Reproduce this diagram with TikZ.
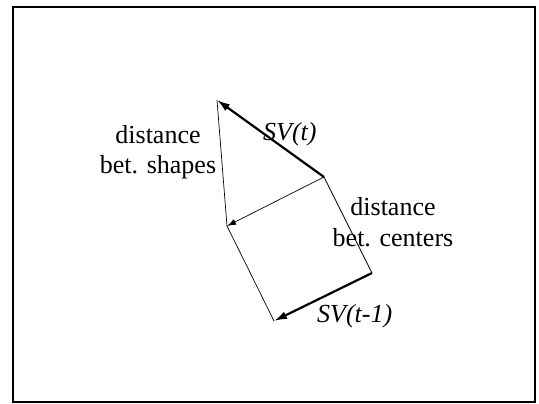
\documentclass[tikz,border=0pt]{standalone}
\usepackage{fontspec}
\setmainfont{Liberation Serif}
\usetikzlibrary{arrows.meta}

\begin{document}
\begin{tikzpicture}[x=1pt, y=-1pt,
    vec/.style={-{Latex[length=13pt,width=8pt]}, line width=2.2pt},
    link/.style={line width=0.7pt},
    lbl/.style={font=\fontsize{26}{31}\selectfont, align=center, inner sep=0pt}]
        \useasboundingbox (0,0) rectangle (539,404);
        \draw[line width=2.5pt] (13,7) rectangle (535,402);

        \coordinate (top) at (217,100);
        \coordinate (right) at (324,177);
        \coordinate (mid) at (227,226);
        \coordinate (low) at (372,273);
        \coordinate (tip) at (274,321);

        \draw[link] (top) -- (mid);
        \draw[link, -{Latex[length=9pt,width=6pt]}] (right) -- (mid);
        \draw[link] (right) -- (low);
        \draw[link] (mid) -- (tip);

        \draw[vec] (right) -- (top);
        \draw[vec] (low) -- (tip);

        \node[lbl, anchor=base] (shapes) at (158,174) {distance\\bet. shapes};
        \node[lbl, anchor=base] (centers) at (393,246) {distance\\bet. centers};
        \node[lbl, anchor=base west] (svt) at (263,141) {\textit{SV(t)}};
        \node[lbl, anchor=base west] (svprev) at (317,322) {\textit{SV(t-1)}};
      \end{tikzpicture}
\end{document}
